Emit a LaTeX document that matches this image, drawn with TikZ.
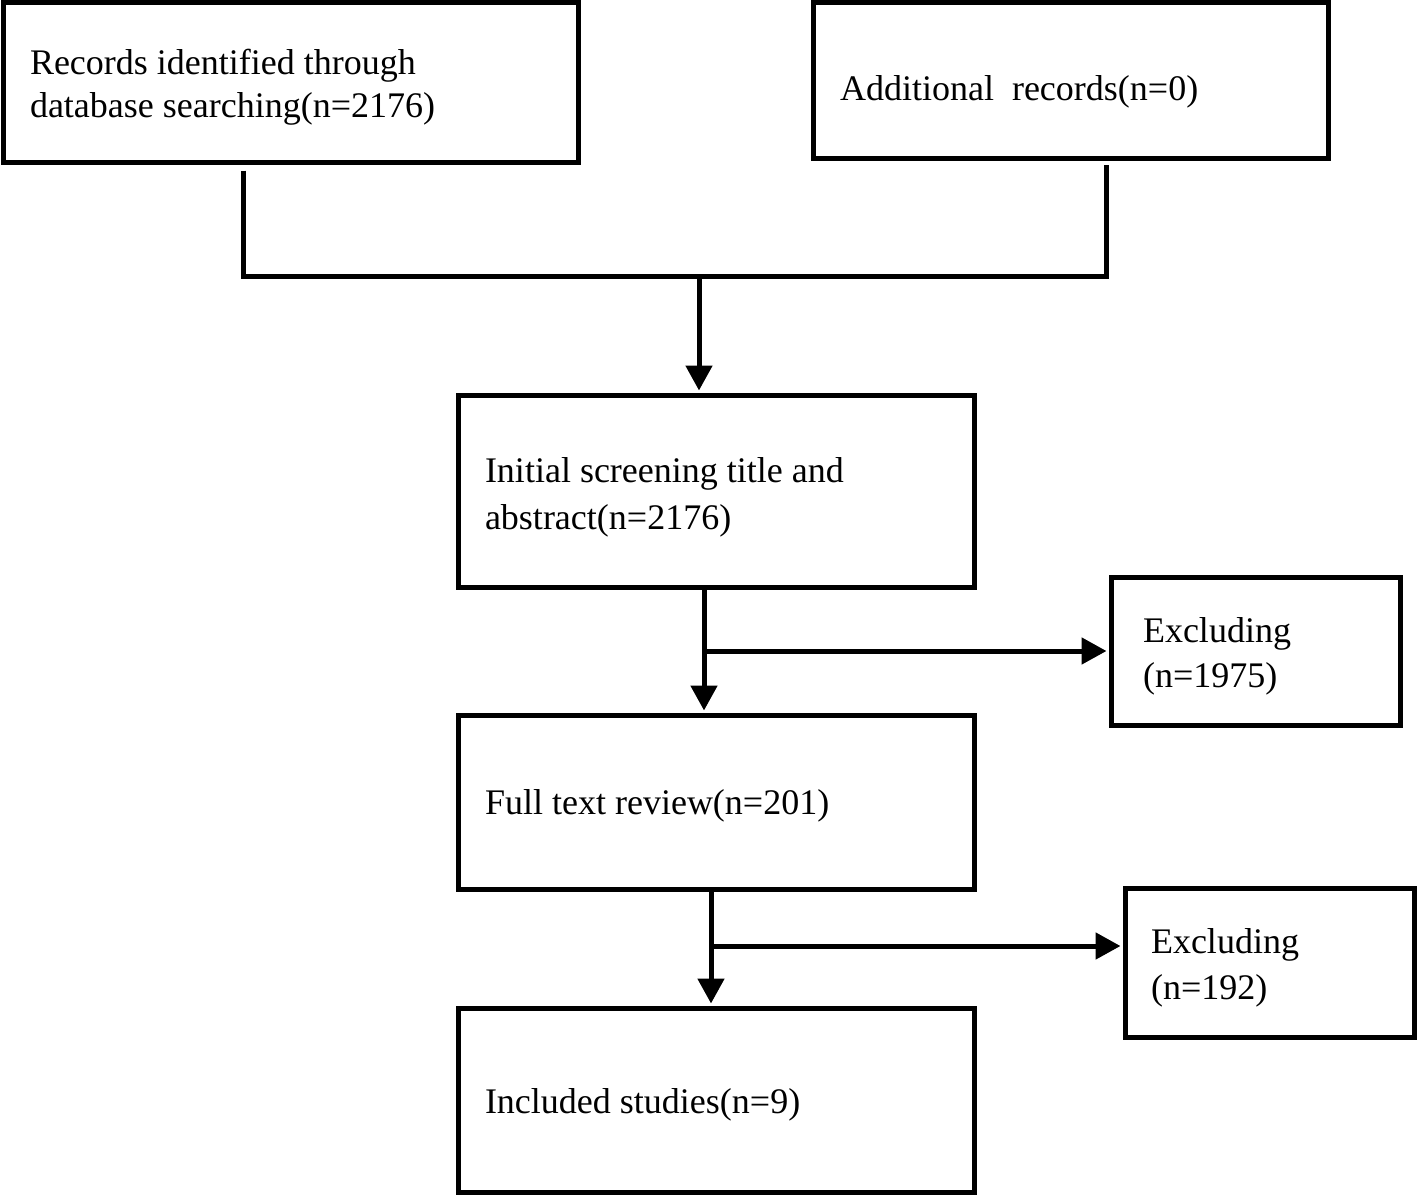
\documentclass[tikz,border=0pt]{standalone}
\usepackage{fontspec}
\setmainfont{Liberation Serif}
\usetikzlibrary{arrows.meta,calc}
\newcommand\boxtxt[4]{\raisebox{-#1}[\height][\depth]{\parbox{#2}{\fontsize{36}{#3}\selectfont\raggedright #4}}}
\begin{document}
\begin{tikzpicture}[x=1pt,y=-1pt,
  box/.style={draw=black,line width=5pt,rectangle,inner ysep=0pt},
  conn/.style={draw=black,line width=5pt},
  arr/.style={conn,-{Triangle[length=25pt,width=26pt]}}]
\useasboundingbox[fill=white] (0,0) rectangle (1418,1196);
\node[box,minimum width=575pt,minimum height=159pt,inner xsep=27pt] (A) at (290.5,82.5)
  {\boxtxt{5pt}{521pt}{43}{Records identified through\\database searching(n=2176)}};
\node[box,minimum width=515pt,minimum height=155pt,inner xsep=27pt] (B) at (1070.5,80.5)
  {\boxtxt{11pt}{461pt}{43}{Additional\ \ records(n=0)}};
\node[box,minimum width=516pt,minimum height=192pt,inner xsep=27pt] (C) at (716,491)
  {\boxtxt{6pt}{462pt}{47}{Initial screening title and\\abstract(n=2176)}};
\node[box,minimum width=516pt,minimum height=174pt,inner xsep=27pt] (D) at (716,802)
  {\boxtxt{4pt}{462pt}{43}{Full text review(n=201)}};
\node[box,minimum width=516pt,minimum height=184pt,inner xsep=27pt] (F) at (716,1100)
  {\boxtxt{5pt}{462pt}{43}{Included studies(n=9)}};
\node[box,minimum width=289pt,minimum height=148pt,inner xsep=32pt] (E) at (1255.5,651)
  {\boxtxt{5pt}{225pt}{45}{Excluding\\(n=1975)}};
\node[box,minimum width=289pt,minimum height=149pt,inner xsep=26pt] (G) at (1269.5,962.5)
  {\boxtxt{5.5pt}{237pt}{46}{Excluding\\(n=192)}};
\coordinate (m) at (699,276);
\coordinate (b1) at (704,651);
\coordinate (b2) at (711,946);
\draw[conn] ([xshift=-47.5pt,yshift=-6pt]A.south) |- (m) -| ([xshift=35.5pt,yshift=-4pt]B.south);
\draw[arr,shorten >=2pt] (m) -- (m |- C.north);
\draw[conn] (b1 |- C.south) -- (b1);
\draw[arr,shorten >=2pt] (b1) -- (b1 |- D.north);
\draw[arr,shorten >=2pt] (b1) -- (E.west);
\draw[conn] (b2 |- D.south) -- (b2);
\draw[arr,shorten >=2pt] (b2) -- (b2 |- F.north);
\draw[arr,shorten >=2pt] (b2) -- (b2 -| G.west);
\end{tikzpicture}
\end{document}
